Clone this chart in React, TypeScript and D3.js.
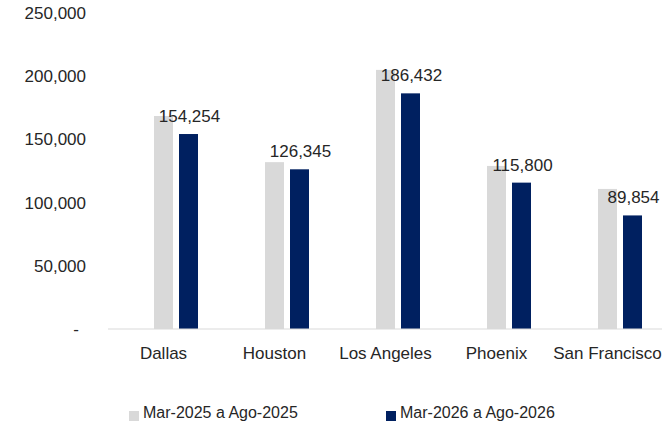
import React from 'react';
import * as d3 from 'd3';

// Chart data
const cities = ['Dallas', 'Houston', 'Los Angeles', 'Phoenix', 'San Francisco'];
const period2025 = [168500, 132000, 205000, 129000, 110800];
const period2026 = [154254, 126345, 186432, 115800, 89854];
const seriesNames = ['Mar-2025 a Ago-2025', 'Mar-2026 a Ago-2026'];
const yTicks = [0, 50000, 100000, 150000, 200000, 250000];

const width = 666;
const height = 425;
const font = '"Liberation Sans", Arial, sans-serif';
const gray = '#D9D9D9';
const navy = '#002060';

const App = () => {
  const x = d3.scaleBand<string>().domain(cities).range([108, 663]);
  // three slots per category: Excel leaves an empty first series slot
  const x1 = d3.scaleBand<string>()
    .domain(['empty', 'a', 'b'])
    .range([0, x.bandwidth()])
    .paddingInner(0.24)
    .paddingOuter(0.84);
  const y = d3.scaleLinear().domain([0, 250000]).range([329, 13]);
  const fmt = d3.format(',');

  return (
    <svg width={width} height={height} style={{ position: 'absolute', left: 0, top: 0 }} fontFamily={font}>
      <rect width={width} height={height} fill="#fff" />

      {/* y axis labels */}
      {yTicks.map(t => (
        <text key={t} x={t === 0 ? 79 : 86} y={y(t)} dy="0.35em" textAnchor="end" fontSize={17} fill="#262626">
          {t === 0 ? '-' : fmt(t)}
        </text>
      ))}

      {/* bars */}
      {cities.map((c, i) => (
        <g key={c} transform={`translate(${x(c)},0)`}>
          <rect x={x1('a')} width={x1.bandwidth()} y={y(period2025[i])} height={y(0) - y(period2025[i])} fill={gray} />
          <rect x={x1('b')} width={x1.bandwidth()} y={y(period2026[i])} height={y(0) - y(period2026[i])} fill={navy} />
          <text x={(x1('b') as number) + x1.bandwidth() / 2 + 1} y={y(period2026[i]) - 12}
            textAnchor="middle" fontSize={17} fill="#262626">
            {fmt(period2026[i])}
          </text>
          <text x={x.bandwidth() / 2} y={359} textAnchor="middle" fontSize={17} fill="#262626">{c}</text>
        </g>
      ))}

      {/* baseline */}
      <line x1={108} x2={662} y1={y(0)} y2={y(0)} stroke="#D9D9D9" strokeWidth={1.2} />

      {/* legend */}
      <rect x={129} y={411} width={10} height={10} fill={gray} />
      <text x={143} y={418} fontSize={16} fill="#262626">{seriesNames[0]}</text>
      <rect x={386} y={411} width={10} height={10} fill={navy} />
      <text x={400} y={418} fontSize={16} fill="#262626">{seriesNames[1]}</text>
    </svg>
  );
};

export default App;
